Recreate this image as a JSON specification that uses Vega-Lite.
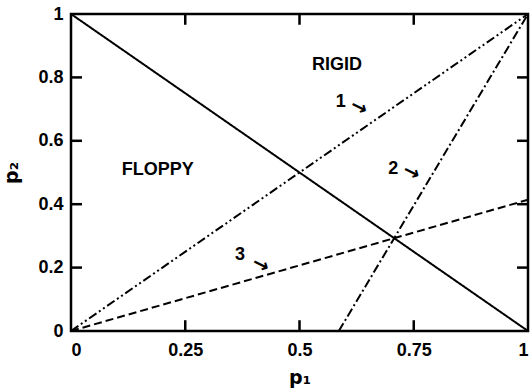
{
  "$schema": "https://vega.github.io/schema/vega-lite/v6.json",
  "autosize": {"type": "none"},
  "width": 457,
  "height": 317,
  "padding": {"left": 71, "top": 14, "right": 2, "bottom": 58},
  "background": "white",
  "config": {
    "view": {"stroke": "black", "strokeWidth": 2.5},
    "font": "Liberation Sans",
    "axis": {
      "domain": false,
      "grid": false,
      "ticks": false,
      "labelFont": "Liberation Sans",
      "labelFontWeight": "bold",
      "labelFontSize": 18,
      "labelColor": "black",
      "titleFont": "DejaVu Sans",
      "titleFontWeight": "bold",
      "titleFontSize": 19,
      "titleColor": "black"
    }
  },
  "datasets": {
    "lines": [
      {"series": "boundary", "x": 0, "y": 1},
      {"series": "boundary", "x": 1, "y": 0},
      {"series": "1", "x": 0, "y": 0},
      {"series": "1", "x": 1, "y": 1},
      {"series": "2", "x": 0.586, "y": 0},
      {"series": "2", "x": 1, "y": 1},
      {"series": "3", "x": 0, "y": 0},
      {"series": "3", "x": 1, "y": 0.414}
    ],
    "xticks": [{"v": 0.25}, {"v": 0.5}, {"v": 0.75}],
    "yticks": [{"v": 0.2}, {"v": 0.4}, {"v": 0.6}, {"v": 0.8}],
    "labels": [
      {"text": "RIGID", "x": 0.582, "y": 0.84},
      {"text": "FLOPPY", "x": 0.19, "y": 0.508},
      {"text": "1", "x": 0.59, "y": 0.722},
      {"text": "2", "x": 0.705, "y": 0.511},
      {"text": "3", "x": 0.37, "y": 0.24}
    ],
    "arrows": [
      {"x": 0.63, "y": 0.705},
      {"x": 0.745, "y": 0.5},
      {"x": 0.415, "y": 0.208}
    ]
  },
  "layer": [
    {
      "data": {"name": "lines"},
      "mark": {"type": "line", "color": "black", "strokeWidth": 2, "clip": true},
      "encoding": {
        "x": {
          "field": "x", "type": "quantitative",
          "scale": {"domain": [0, 1], "nice": false, "zero": false},
          "axis": {"orient": "bottom", "values": [0, 0.25, 0.5, 0.75, 1], "format": ".2~f", "labelPadding": 10, "title": "p₁", "titlePadding": 9}
        },
        "y": {
          "field": "y", "type": "quantitative",
          "scale": {"domain": [0, 1], "nice": false, "zero": false},
          "axis": {"orient": "left", "values": [0, 0.2, 0.4, 0.6, 0.8, 1], "format": ".1~f", "labelPadding": 8, "title": "p₂", "titlePadding": 16}
        },
        "detail": {"field": "series"},
        "strokeDash": {
          "field": "series", "type": "nominal", "legend": null,
          "scale": {
            "domain": ["boundary", "1", "2", "3"],
            "range": [[1, 0], [9, 3, 2, 3, 2, 3], [9, 3, 2, 3], [8, 4]]
          }
        }
      }
    },
    {
      "data": {"name": "xticks"},
      "mark": {"type": "rule", "color": "black", "strokeWidth": 2.5},
      "encoding": {
        "x": {"field": "v", "type": "quantitative"},
        "y": {"datum": 0, "type": "quantitative"},
        "y2": {"datum": 0.034}
      }
    },
    {
      "data": {"name": "xticks"},
      "mark": {"type": "rule", "color": "black", "strokeWidth": 2.5},
      "encoding": {
        "x": {"field": "v", "type": "quantitative"},
        "y": {"datum": 1, "type": "quantitative"},
        "y2": {"datum": 0.966}
      }
    },
    {
      "data": {"name": "yticks"},
      "mark": {"type": "rule", "color": "black", "strokeWidth": 2.5},
      "encoding": {
        "y": {"field": "v", "type": "quantitative"},
        "x": {"datum": 0, "type": "quantitative"},
        "x2": {"datum": 0.024}
      }
    },
    {
      "data": {"name": "yticks"},
      "mark": {"type": "rule", "color": "black", "strokeWidth": 2.5},
      "encoding": {
        "y": {"field": "v", "type": "quantitative"},
        "x": {"datum": 1, "type": "quantitative"},
        "x2": {"datum": 0.976}
      }
    },
    {
      "data": {"name": "labels"},
      "mark": {"type": "text", "font": "Liberation Sans", "fontWeight": "bold", "fontSize": 18, "color": "black", "align": "center", "baseline": "middle"},
      "encoding": {
        "x": {"field": "x", "type": "quantitative"},
        "y": {"field": "y", "type": "quantitative"},
        "text": {"field": "text"}
      }
    },
    {
      "data": {"name": "arrows"},
      "mark": {"type": "text", "text": "→", "font": "DejaVu Sans", "fontWeight": "bold", "fontSize": 20, "angle": 27, "color": "black", "align": "center", "baseline": "middle"},
      "encoding": {
        "x": {"field": "x", "type": "quantitative"},
        "y": {"field": "y", "type": "quantitative"}
      }
    }
  ]
}
